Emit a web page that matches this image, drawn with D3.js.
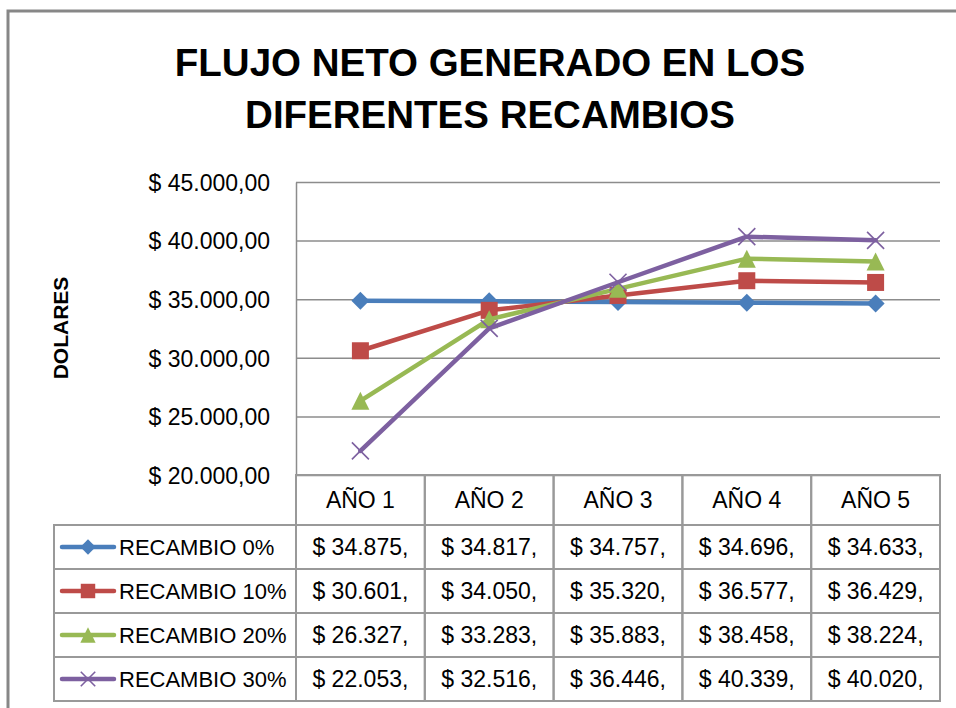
<!DOCTYPE html>
<html>
<head>
<meta charset="utf-8">
<script src="https://cdn.jsdelivr.net/npm/d3@7"></script>
<style>
  body { margin: 0; background: #fff; }
  svg text { font-family: "Liberation Sans", Arial, sans-serif; fill: #000; }
</style>
</head>
<body>
<div id="chart"></div>
<script>
var years = ['AÑO 1', 'AÑO 2', 'AÑO 3', 'AÑO 4', 'AÑO 5'];
var seriesNames = ['RECAMBIO 0%', 'RECAMBIO 10%', 'RECAMBIO 20%', 'RECAMBIO 30%'];
var recambio0 = [34875, 34817, 34757, 34696, 34633];
var recambio10 = [30601, 34050, 35320, 36577, 36429];
var recambio20 = [26327, 33283, 35883, 38458, 38224];
var recambio30 = [22053, 32516, 36446, 40339, 40020];
var yTicks = [20000, 25000, 30000, 35000, 40000, 45000];
var titleLines = ['FLUJO NETO GENERADO EN LOS', 'DIFERENTES RECAMBIOS'];

var colors = ['#4a7ebb', '#be4b48', '#98b954', '#7d60a0'];
var markers = ['diamond', 'square', 'triangle', 'cross'];

var width = 956, height = 708;
var plotLeft = 296, plotRight = 940, plotTop = 182, plotBottom = 475;
var headerH = 50, rowH = 44, legendLeft = 54;

var svg = d3.select('#chart')
  .append('svg')
  .attr('width', width)
  .attr('height', height);

svg.append('rect')
  .attr('x', 0).attr('y', 0)
  .attr('width', width).attr('height', height)
  .attr('fill', '#fff');

// outer chart frame
svg.append('rect')
  .attr('x', 8).attr('y', 11)
  .attr('width', 980).attr('height', 740)
  .attr('fill', 'none')
  .attr('stroke', '#878787')
  .attr('stroke-width', 3);

svg.selectAll('.title')
  .data(titleLines)
  .enter()
  .append('text')
  .attr('x', 490)
  .attr('y', function (d, i) { return 76 + i * 52; })
  .attr('text-anchor', 'middle')
  .style('font-size', '38.5px')
  .style('font-weight', 'bold')
  .text(function (d) { return d; });

var series = [recambio0, recambio10, recambio20, recambio30].map(function (vals, i) {
  return { name: seriesNames[i], values: vals, color: colors[i], marker: markers[i] };
});

var x = d3.scaleBand().domain(years).range([plotLeft, plotRight]);
var y = d3.scaleLinear().domain([20000, 45000]).range([plotBottom, plotTop]);

var loc = d3.formatLocale({ decimal: ',', thousands: '.', grouping: [3], currency: ['$ ', ''] });
var tickFmt = loc.format('$,.2f');
var cellFmt = function (v) { return '$ ' + loc.format(',')(v) + ','; };

// gridlines
svg.append('g')
  .attr('transform', 'translate(' + plotLeft + ',0)')
  .call(d3.axisLeft(y).tickValues(yTicks).tickSize(-(plotRight - plotLeft)).tickFormat(''))
  .call(function (g) {
    g.select('.domain').remove();
    g.selectAll('line').attr('stroke', '#8c8c8c').attr('stroke-width', 1.5);
  });

// y axis line + labels
svg.append('g')
  .attr('transform', 'translate(' + plotLeft + ',0)')
  .call(d3.axisLeft(y).tickValues(yTicks).tickSize(0).tickPadding(26).tickFormat(tickFmt))
  .call(function (g) {
    g.select('.domain').attr('stroke', '#8c8c8c').attr('stroke-width', 1.5);
    g.selectAll('text')
      .style('font-size', '23px')
      .style('font-family', '"Liberation Sans", Arial, sans-serif')
      .attr('fill', '#000')
      .attr('dy', '0.36em');
  });

svg.append('text')
  .attr('transform', 'translate(68,328) rotate(-90)')
  .attr('text-anchor', 'middle')
  .style('font-size', '21px')
  .style('font-weight', 'bold')
  .text('DOLARES');

function markerPath(type, s) {
  var h = s / 2;
  if (type === 'diamond') return 'M0,' + (-h) + 'L' + h + ',0L0,' + h + 'L' + (-h) + ',0Z';
  if (type === 'square') return 'M' + (-h) + ',' + (-h) + 'H' + h + 'V' + h + 'H' + (-h) + 'Z';
  if (type === 'triangle') return 'M0,' + (-h) + 'L' + h + ',' + h + 'L' + (-h) + ',' + h + 'Z';
  return 'M' + (-h) + ',' + (-h) + 'L' + h + ',' + h + 'M' + h + ',' + (-h) + 'L' + (-h) + ',' + h;
}
var markerSize = { diamond: 18, square: 17, triangle: 18, cross: 17 };

function drawMarker(sel, s, big) {
  sel.attr('d', function () { return markerPath(s.marker, big ? markerSize[s.marker] : markerSize[s.marker] * 0.85); })
    .attr('fill', s.marker === 'cross' ? 'none' : s.color)
    .attr('stroke', s.color)
    .attr('stroke-width', s.marker === 'cross' ? 1.6 : 0);
}

var line = d3.line()
  .x(function (d, i) { return x(years[i]) + x.bandwidth() / 2; })
  .y(function (d) { return y(d); });

series.forEach(function (s) {
  var g = svg.append('g');
  g.append('path')
    .datum(s.values)
    .attr('d', line)
    .attr('fill', 'none')
    .attr('stroke', s.color)
    .attr('stroke-width', 4.5)
    .attr('stroke-linejoin', 'round')
    .attr('stroke-linecap', 'round');
  g.selectAll('.mk')
    .data(s.values)
    .enter()
    .append('path')
    .attr('transform', function (d, i) {
      return 'translate(' + (x(years[i]) + x.bandwidth() / 2) + ',' + y(d) + ')';
    })
    .call(drawMarker, s, true);
});

// data table
var tableStroke = '#999';
var tbl = svg.append('g');

tbl.selectAll('.hcell')
  .data(years)
  .enter()
  .append('rect')
  .attr('x', function (d) { return x(d); })
  .attr('y', plotBottom)
  .attr('width', x.bandwidth())
  .attr('height', headerH)
  .attr('fill', 'none')
  .attr('stroke', tableStroke)
  .attr('stroke-width', 2);

tbl.selectAll('.htext')
  .data(years)
  .enter()
  .append('text')
  .attr('x', function (d) { return x(d) + x.bandwidth() / 2; })
  .attr('y', plotBottom + headerH / 2 + 8)
  .attr('text-anchor', 'middle')
  .style('font-size', '23px')
  .text(function (d) { return d; });

var rowsTop = plotBottom + headerH;

series.forEach(function (s, r) {
  var ry = rowsTop + r * rowH;
  var rg = tbl.append('g');

  rg.append('rect')
    .attr('x', legendLeft).attr('y', ry)
    .attr('width', plotLeft - legendLeft).attr('height', rowH)
    .attr('fill', 'none').attr('stroke', tableStroke).attr('stroke-width', 2);

  rg.selectAll('.vcell')
    .data(s.values)
    .enter()
    .append('rect')
    .attr('x', function (d, i) { return x(years[i]); })
    .attr('y', ry)
    .attr('width', x.bandwidth())
    .attr('height', rowH)
    .attr('fill', 'none').attr('stroke', tableStroke).attr('stroke-width', 2);

  rg.selectAll('.vtext')
    .data(s.values)
    .enter()
    .append('text')
    .attr('x', function (d, i) { return x(years[i]) + x.bandwidth() / 2; })
    .attr('y', ry + rowH / 2 + 8)
    .attr('text-anchor', 'middle')
    .style('font-size', '23px')
    .text(cellFmt);

  // legend key
  rg.append('line')
    .attr('x1', 62).attr('x2', 114)
    .attr('y1', ry + rowH / 2).attr('y2', ry + rowH / 2)
    .attr('stroke', s.color).attr('stroke-width', 4.5)
    .attr('stroke-linecap', 'round');
  rg.append('path')
    .attr('transform', 'translate(88,' + (ry + rowH / 2) + ')')
    .call(drawMarker, s, false);

  rg.append('text')
    .attr('x', 119)
    .attr('y', ry + rowH / 2 + 8)
    .style('font-size', '22px')
    .text(s.name);
});
</script>
</body>
</html>
